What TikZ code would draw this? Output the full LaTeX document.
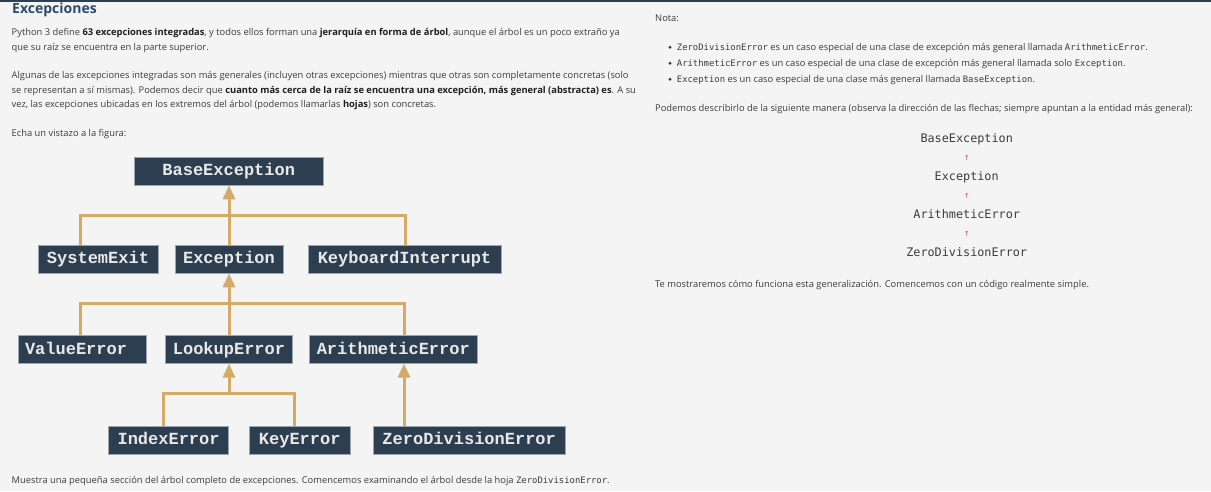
\documentclass[tikz,border=0pt]{standalone}
\usepackage{fontspec}
\setmainfont{Open Sans}
\newfontfamily\bodyf{Open Sans}
\newfontfamily\headf{Open Sans}
\newfontfamily\codef{DejaVu Sans Mono}
\newfontfamily\boxf{Liberation Mono}
\newfontfamily\symf{DejaVu Sans}
\usetikzlibrary{arrows.meta}
\definecolor{bg}{HTML}{F4F4F4}
\definecolor{boxfill}{HTML}{2D3E50}
\definecolor{boxline}{HTML}{9AA5B0}
\definecolor{boxtext}{HTML}{E8E8E8}
\definecolor{tanc}{HTML}{D4AA68}
\definecolor{txt}{HTML}{3C3C3C}
\definecolor{strong}{HTML}{1E1E1E}
\definecolor{head}{HTML}{2B4A6E}
\definecolor{topbar}{HTML}{2C3E50}
\definecolor{uparrow}{HTML}{D14B2E}
\newcommand\hb[1]{{\color{strong}\bfseries #1}}
\newcommand\ic[1]{{\codef\fontsize{8.9}{10}\selectfont #1}}
\tikzset{
  exbox/.style={draw=boxline, line width=0.6pt, fill=boxfill, text=boxtext,
    font=\boxf\bfseries\fontsize{17}{17}\selectfont, minimum height=28pt, inner sep=0pt,
    text height=12.8pt, text depth=3pt},
  conn/.style={draw=tanc, line width=3pt},
  arr/.style={conn, -{Triangle[length=14pt,width=12pt]}},
  txtline/.style={anchor=base west, inner sep=0pt, text=txt, font=\bodyf\fontsize{9.35}{11}\selectfont},
  chain/.style={anchor=base, inner sep=0pt, text=txt, font=\codef\fontsize{11.8}{12}\selectfont},
  uparr/.style={inner sep=0pt, text=uparrow, font=\symf\fontsize{7}{7}\selectfont},
  dot/.style={circle, fill=txt, inner sep=0pt, minimum size=3.2pt}
}
\begin{document}
\begin{tikzpicture}[x=1pt,y=-1pt]
\useasboundingbox (0,0) rectangle (1211,491);
\fill[bg] (0,0) rectangle (1211,491);
\fill[topbar] (0,0) rectangle (1211,1.5);

% left column text
\node[anchor=base west, inner sep=0pt, text=head, font=\headf\bfseries\fontsize{14}{14}\selectfont] (title) at (12,13.5) {Excepciones};
\node[txtline] (l1) at (11.5,35.5) {Python 3 define \hb{63 excepciones integradas}, y todos ellos forman una \hb{jerarquía en forma de árbol}, aunque el árbol es un poco extraño ya};
\node[txtline] (l2) at (11.5,50) {que su raíz se encuentra en la parte superior.};
\node[txtline] (l3) at (11.5,78.5) {Algunas de las excepciones integradas son más generales (incluyen otras excepciones) mientras que otras son completamente concretas (solo};
\node[txtline] (l4) at (11.5,93) {se representan a sí mismas). Podemos decir que \hb{cuanto más cerca de la raíz se encuentra una excepción, más general (abstracta) es}. A su};
\node[txtline] (l5) at (11.5,107.5) {vez, las excepciones ubicadas en los extremos del árbol (podemos llamarlas \hb{hojas}) son concretas.};
\node[txtline] (l6) at (11.5,136.5) {Echa un vistazo a la figura:};
\node[txtline] (cap) at (11.5,483) {Muestra una pequeña sección del árbol completo de excepciones. Comencemos examinando el árbol desde la hoja \ic{ZeroDivisionError}.};

% tree boxes
\node[exbox, minimum width=189.5pt] (base) at (228.75,171) {BaseException};
\node[exbox, minimum width=120pt] (sysexit) at (98,259) {SystemExit};
\node[exbox, minimum width=108pt] (exc) at (229,259) {Exception};
\node[exbox, minimum width=193pt] (kbd) at (404.5,259) {KeyboardInterrupt};
\node[exbox, minimum width=128pt, text width=114pt, align=left, inner xsep=7pt] (val) at (82,349.25) {ValueError};
\node[exbox, minimum width=127.4pt] (look) at (229,349.25) {LookupError};
\node[exbox, minimum width=167.4pt] (arith) at (393.3,349.25) {ArithmeticError};
\node[exbox, minimum width=119.8pt] (idx) at (168.6,440) {IndexError};
\node[exbox, minimum width=100.5pt] (key) at (299.75,440) {KeyError};
\node[exbox, minimum width=192.4pt] (zero) at (469.2,440) {ZeroDivisionError};

% connectors
\coordinate (b1l) at (80,215);
\coordinate (b1r) at (405,215);
\draw[conn] (b1l |- sysexit.north) -- (b1l) -- (b1r) -- (b1r |- kbd.north);
\draw[arr] (exc.north) -- (exc.north |- base.south);

\coordinate (b2l) at (80,303.3);
\coordinate (b2r) at (404,303.3);
\draw[conn] (b2l |- val.north) -- (b2l) -- (b2r) -- (b2r |- arith.north);
\draw[arr] (look.north) -- (look.north |- exc.south);

\coordinate (b3l) at (163,393);
\coordinate (b3r) at (294.6,393);
\coordinate (b3m) at (229,393);
\draw[conn] (b3l |- idx.north) -- (b3l) -- (b3r) -- (b3r |- key.north);
\draw[arr] (b3m) -- (b3m |- look.south);

\coordinate (za) at (404,0);
\draw[arr] (za |- zero.north) -- (za |- arith.south);

% right column
\node[txtline] (nota) at (655,21) {Nota:};
\node[dot] (d1) at (670,47.3) {};
\node[dot] (d2) at (670,63.3) {};
\node[dot] (d3) at (670,79.3) {};
\node[txtline] (n1) at (676.7,50.3) {\ic{ZeroDivisionError} es un caso especial de una clase de excepción más general llamada \ic{ArithmeticError}.};
\node[txtline] (n2) at (676.7,66.3) {\ic{ArithmeticError} es un caso especial de una clase de excepción más general llamada solo \ic{Exception}.};
\node[txtline] (n3) at (676.7,82.3) {\ic{Exception} es un caso especial de una clase más general llamada \ic{BaseException}.};
\node[txtline] (pod) at (655,111) {Podemos describirlo de la siguiente manera (observa la dirección de las flechas; siempre apuntan a la entidad más general):};

\node[chain] (c1) at (966.7,142.2) {BaseException};
\node[uparr] (u1) at (966.7,157.5) {↑};
\node[chain] (c2) at (966.7,180.3) {Exception};
\node[uparr] (u2) at (966.7,195.5) {↑};
\node[chain] (c3) at (966.7,218.5) {ArithmeticError};
\node[uparr] (u3) at (966.7,234) {↑};
\node[chain] (c4) at (966.7,256.8) {ZeroDivisionError};

\node[txtline] (te) at (655,287.5) {Te mostraremos cómo funciona esta generalización. Comencemos con un código realmente simple.};
\end{tikzpicture}
\end{document}
